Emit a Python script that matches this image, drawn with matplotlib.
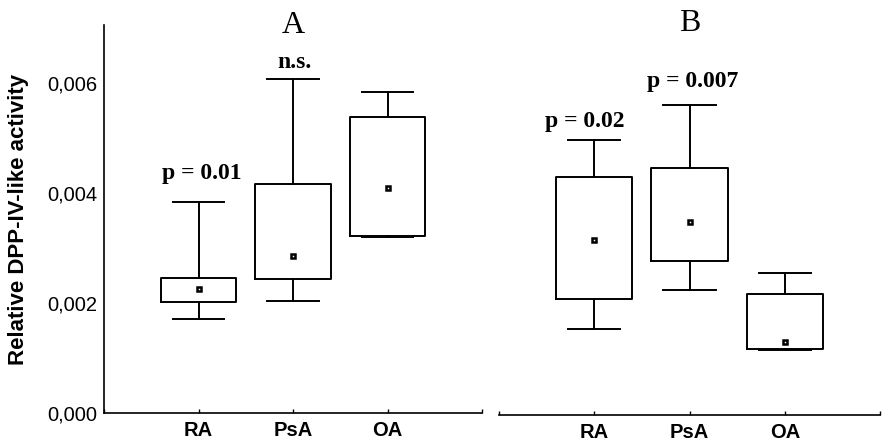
import matplotlib
matplotlib.use("Agg")
import matplotlib.pyplot as plt

groups = ["RA", "PsA", "OA"]

# panel A
a_whislo = [0.00171, 0.00204, 0.00320]
a_q1 = [0.00202, 0.00244, 0.00322]
a_mean = [0.00226, 0.00286, 0.00409]
a_q3 = [0.00246, 0.00416, 0.00538]
a_whishi = [0.00384, 0.00607, 0.00584]
a_notes = ["p = 0.01", "n.s.", ""]
a_note_y = [0.00436, 0.00638, 0.0]

# panel B
b_whislo = [0.00156, 0.00227, 0.00118]
b_q1 = [0.00211, 0.00280, 0.00120]
b_mean = [0.00318, 0.00351, 0.00133]
b_q3 = [0.00433, 0.00449, 0.00220]
b_whishi = [0.00500, 0.00564, 0.00258]
b_notes = ["p = 0.02", "p = 0.007", ""]
b_note_y = [0.00533, 0.00606, 0.0]

fig = plt.figure(figsize=(8.82, 4.47), dpi=100)
ax_a = fig.add_axes([104 / 882, 34 / 447, 378 / 882, 388 / 447])
ax_b = fig.add_axes([499 / 882, 32 / 447, 381 / 882, 388 / 447])

serif = "Liberation Serif"
sans = "Liberation Sans"


def draw_panel(ax, whislo, q1, mean, q3, whishi, notes, note_y, title, note_dx, tpad):
    stats = []
    for i, g in enumerate(groups):
        stats.append(dict(label=g, whislo=whislo[i], q1=q1[i], med=mean[i],
                          q3=q3[i], whishi=whishi[i], mean=mean[i], fliers=[]))
    pos = [1, 2, 3]
    ax.bxp(stats, positions=pos, widths=0.8, capwidths=0.55,
           showmeans=True, showfliers=False,
           boxprops=dict(color="black", linewidth=1.4),
           whiskerprops=dict(color="black", linewidth=1.4),
           capprops=dict(color="black", linewidth=1.4),
           medianprops=dict(visible=False),
           meanprops=dict(marker="s", markersize=3.0, markerfacecolor="white",
                          markeredgecolor="black", markeredgewidth=1.8))
    for i, t in enumerate(notes):
        if t:
            ax.text(pos[i] + note_dx[i], note_y[i], t, ha="center", va="center",
                    fontsize=17, fontweight="bold", family=serif)
    ax.set_xlim(0, 4)
    ax.set_ylim(0, 0.002 * 388 / 110)
    ax.set_xticks([0, 1, 2, 3, 4])
    ax.set_xticklabels(["", "RA", "PsA", "OA", ""], fontsize=14.5,
                       fontweight="bold", family=sans)
    ax.tick_params(axis="x", direction="in", length=3, width=1, pad=6)
    ax.set_title(title, fontsize=23, family=serif, y=1.0, pad=tpad)
    for s in ["top", "right"]:
        ax.spines[s].set_visible(False)
    ax.spines["bottom"].set_linewidth(1.2)


draw_panel(ax_a, a_whislo, a_q1, a_mean, a_q3, a_whishi, a_notes, a_note_y,
           "A", [0.04, 0.02, 0], -6)
draw_panel(ax_b, b_whislo, b_q1, b_mean, b_q3, b_whishi, b_notes, b_note_y,
           "B", [-0.1, 0.03, 0], -3)

ax_a.spines["left"].set_linewidth(1.2)
ax_a.set_yticks([0, 0.002, 0.004, 0.006])
ax_a.set_yticklabels(["0,000", "0,002", "0,004", "0,006"], fontsize=14.5, family=sans)
ax_a.tick_params(axis="y", length=0, pad=5)
ax_a.set_ylabel("Relative DPP-IV-like activity", fontsize=16, fontweight="bold",
                family=sans, labelpad=13)

ax_b.spines["left"].set_visible(False)
ax_b.set_yticks([])

fig.savefig("out.png", dpi=100, facecolor="white")
